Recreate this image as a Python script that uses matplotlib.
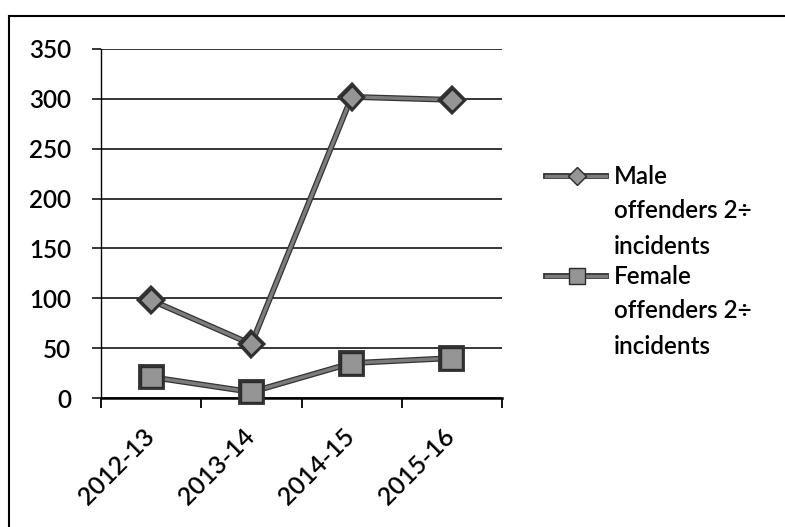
import matplotlib
matplotlib.use("Agg")
import matplotlib.pyplot as plt
import matplotlib.patheffects as pe
import matplotlib.transforms as mtransforms
from matplotlib.lines import Line2D

plt.rcParams["font.family"] = ["Lato", "DejaVu Sans"]
plt.rcParams["font.weight"] = "semibold"

years = ["2012-13", "2013-14", "2014-15", "2015-16"]
male = [98, 54, 302, 299]
female = [21, 6, 35, 40]
legend_labels = [["Male", "offenders 2÷", "incidents"],
                 ["Female", "offenders 2÷", "incidents"]]
yticks = [0, 50, 100, 150, 200, 250, 300, 350]

W, H = 785, 527
fig = plt.figure(figsize=(W / 100, H / 100), dpi=100)
ax = fig.add_axes([101 / W, 1 - 398 / H, (502 - 101) / W, (398 - 49) / H])

line_col = "#7c7c7c"
mark_col = "#959595"
edge_col = "#2a2a2a"
fx = [pe.Stroke(linewidth=4.2, foreground="#333333"), pe.Normal()]
x = list(range(len(years)))
ax.plot(x, male, color=line_col, lw=2.4, path_effects=fx, marker="D", ms=11,
        mfc=mark_col, mec=edge_col, mew=1.0, zorder=4, clip_on=False)
ax.plot(x, female, color=line_col, lw=2.4, path_effects=fx, marker="s", ms=15,
        mfc=mark_col, mec=edge_col, mew=1.0, zorder=4, clip_on=False)

ax.set_xlim(-0.5, 3.5)
ax.set_ylim(0, 350)
ax.set_yticks(yticks)
ax.yaxis.grid(True, color="black", lw=1.1)
ax.set_axisbelow(True)
ax.tick_params(axis="y", length=6.5, width=1.1, labelsize=17.5, pad=15)

ax.set_xticks(x)
ax.set_xticklabels(years, rotation=45, ha="right", va="top",
                   rotation_mode="anchor", fontsize=18)
ax.set_xticks([-0.5, 0.5, 1.5, 2.5, 3.5], minor=True)
ax.tick_params(axis="x", which="major", length=0, pad=19)
ax.tick_params(axis="x", which="minor", length=7, width=1.3)
shift = mtransforms.ScaledTranslation(-9 / 100, 0, fig.dpi_scale_trans)
for lab in ax.get_xticklabels():
    lab.set_transform(lab.get_transform() + shift)

for s in ["top", "right"]:
    ax.spines[s].set_visible(False)
ax.spines["left"].set_linewidth(1.0)
ax.spines["bottom"].set_linewidth(1.8)

# outer chart border
fig.add_artist(Line2D([9 / W, 9 / W], [0, 1 - 16 / H], color="black", lw=1.5))
fig.add_artist(Line2D([9 / W, 1], [1 - 16 / H, 1 - 16 / H], color="black", lw=1.5))

# legend drawn by hand, Excel style (key aligned with first line)
entries = [("D", 9, 176), ("s", 12, 276)]
for (mk, ms, ly), lines in zip(entries, legend_labels):
    yy = 1 - ly / H
    fig.add_artist(Line2D([546 / W, 606 / W], [yy, yy], color=line_col, lw=2.4,
                          path_effects=fx))
    fig.add_artist(Line2D([577 / W], [yy], marker=mk, ms=ms, mfc=mark_col,
                          mec=edge_col, mew=1.0, color=line_col))
    for i, t in enumerate(lines):
        fig.text(614 / W, 1 - (ly + 35 * i) / H, t, fontsize=17.5, va="center", ha="left")

fig.savefig("out.png", dpi=100)
